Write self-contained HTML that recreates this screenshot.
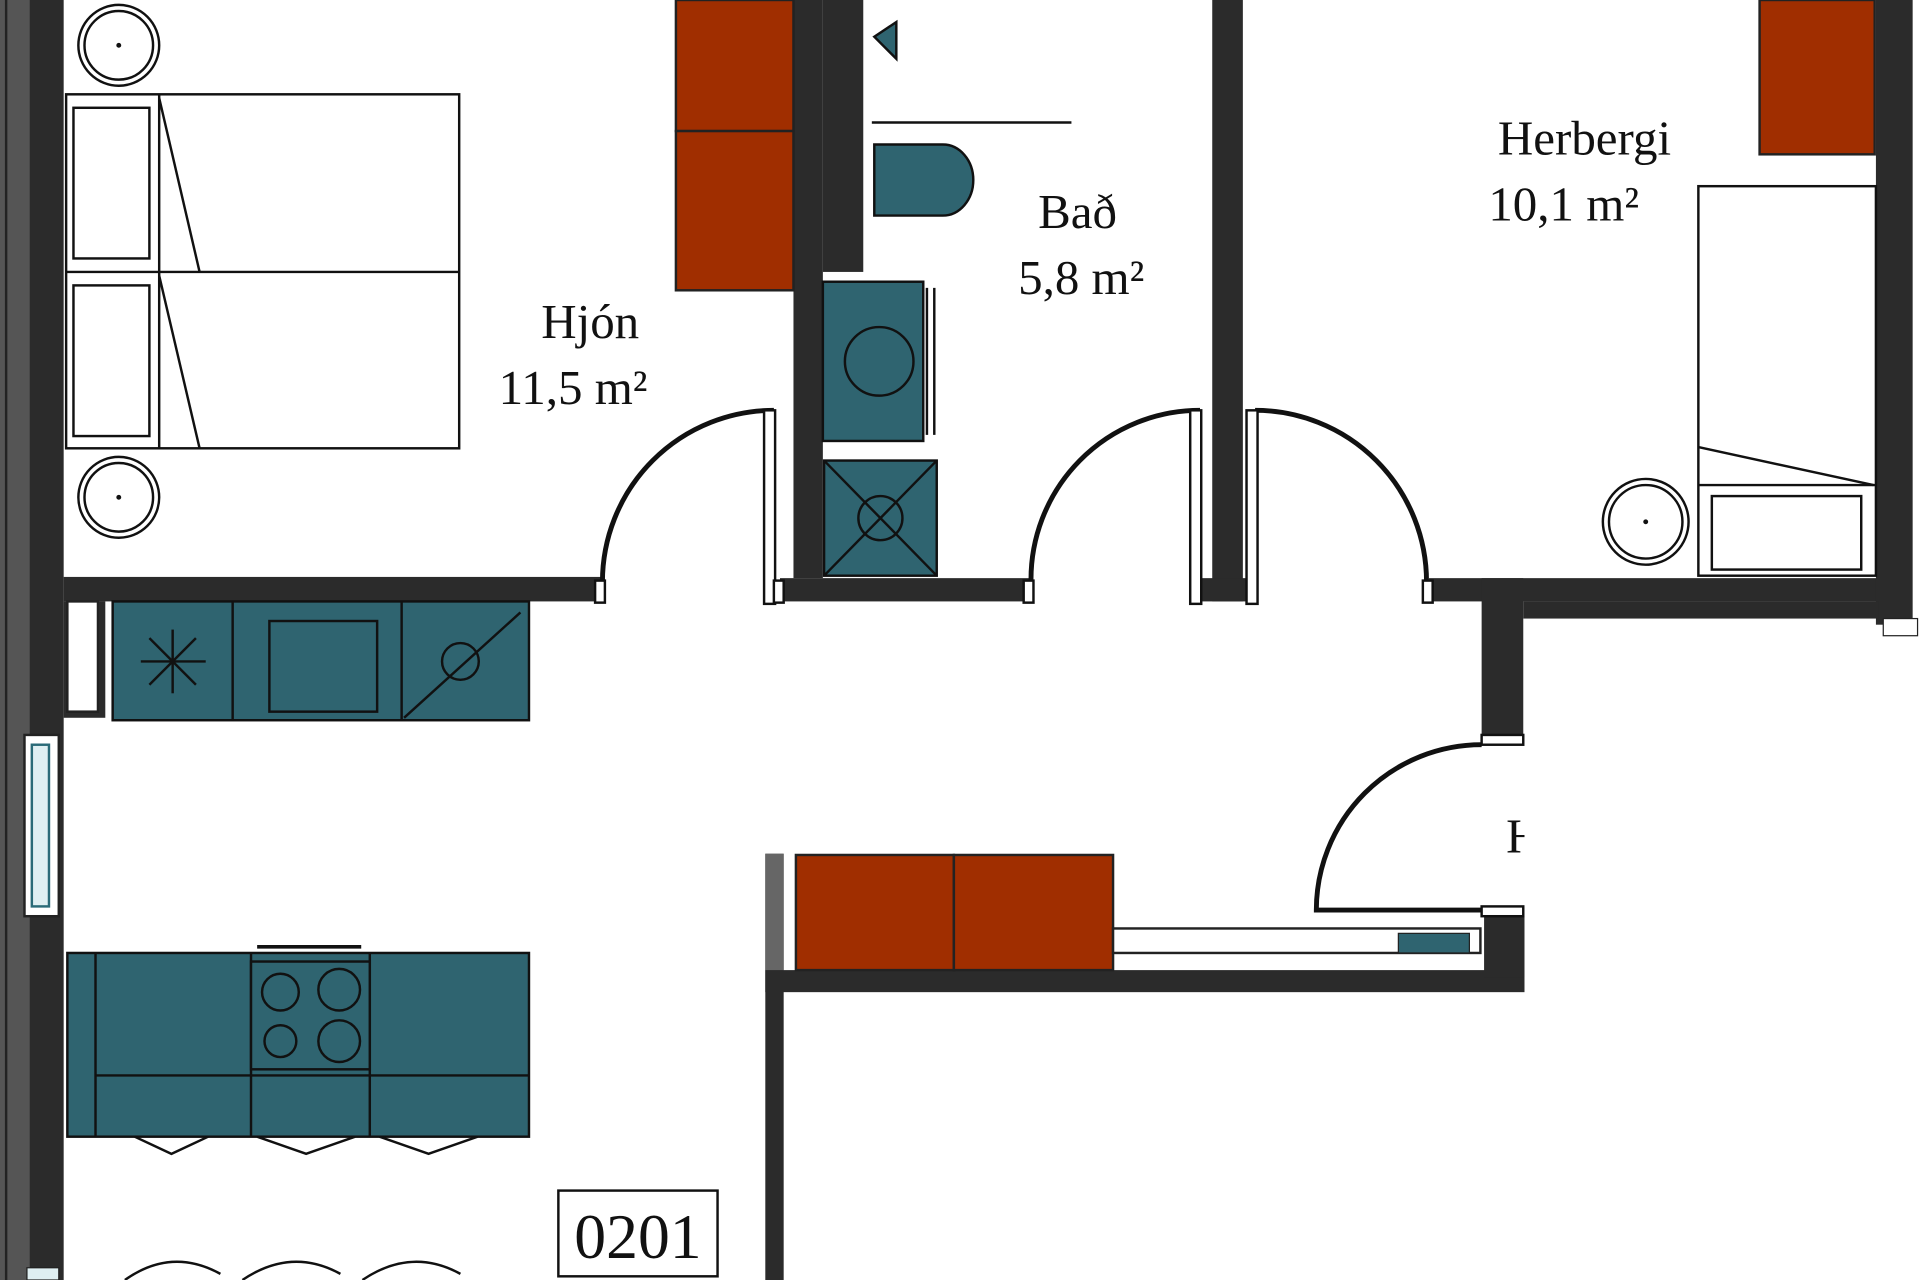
<!DOCTYPE html>
<html><head><meta charset="utf-8"><style>
html,body{margin:0;padding:0;background:#fff;width:1920px;height:1280px;overflow:hidden}
svg{display:block}
text{font-family:"Liberation Serif",serif;fill:#111}
</style></head><body>
<svg width="1920" height="1280" viewBox="0 0 1568 1045" preserveAspectRatio="none" xmlns="http://www.w3.org/2000/svg">
<rect width="1568" height="1045" fill="#fff"/>
<!-- left wall -->
<rect x="0" y="0" width="24" height="1045" fill="#555"/>
<rect x="24" y="0" width="28" height="1045" fill="#2b2b2b"/>
<line x1="5" y1="0" x2="5" y2="1045" stroke="#222" stroke-width="2"/>
<rect x="20" y="600" width="28" height="148" fill="#fff" stroke="#222" stroke-width="2"/>
<rect x="26" y="608" width="14" height="132" fill="#dfeff2" stroke="#2b6b78" stroke-width="2"/>
<rect x="22" y="1035" width="26" height="10" fill="#dfeff2" stroke="#222"/>

<!-- walls -->
<g fill="#2b2b2b">
<rect x="52" y="471" width="440" height="20"/>
<rect x="52" y="491" width="34" height="95"/>
<rect x="648" y="0" width="24" height="472"/>
<rect x="672" y="0" width="33" height="222"/>
<rect x="637" y="472" width="205" height="19"/>
<rect x="990" y="0" width="25" height="491"/>
<rect x="978" y="472" width="40" height="19"/>
<rect x="1167" y="472" width="370" height="19"/>
<rect x="1532" y="0" width="30" height="510"/>
<rect x="1210" y="472" width="34" height="135"/>
<rect x="1244" y="491" width="290" height="14"/>
<rect x="625" y="792" width="620" height="18"/>
<rect x="625" y="697" width="15" height="348"/>
<rect x="1212" y="748" width="33" height="50"/>
</g>
<rect x="625" y="697" width="15" height="95" fill="#666"/>
<rect x="55" y="491" width="25" height="90" fill="#fff" stroke="#222" stroke-width="2"/>
<rect x="1538" y="505" width="28" height="14" fill="#fff" stroke="#222"/>

<!-- orange wardrobes -->
<g fill="#a02e00" stroke="#222" stroke-width="2">
<rect x="552" y="0" width="96" height="107"/>
<rect x="552" y="107" width="96" height="130"/>
<rect x="1437" y="0" width="94" height="126"/>
<rect x="650" y="698" width="129" height="94"/>
<rect x="779" y="698" width="130" height="94"/>
</g>
<rect x="909" y="758" width="300" height="20" fill="#fff" stroke="#222" stroke-width="2"/>
<rect x="1142" y="762" width="58" height="16" fill="#2f6470" stroke="#222"/>

<!-- doors -->
<g fill="none" stroke="#111" stroke-width="4">
<path d="M632 335 A140 140 0 0 0 492 475"/>
<path d="M980 335 A138 138 0 0 0 842 475"/>
<path d="M1025 335 A140 140 0 0 1 1165 475"/>
<path d="M1210 608 A135 135 0 0 0 1075 743 L1210 743"/>
</g>
<g fill="#fff" stroke="#111" stroke-width="2">
<rect x="624" y="335" width="9" height="158"/>
<rect x="486" y="474" width="8" height="18"/>
<rect x="972" y="335" width="9" height="158"/>
<rect x="1018" y="335" width="9" height="158"/>
<rect x="632" y="474" width="8" height="18"/>
<rect x="836" y="474" width="8" height="18"/>
<rect x="1162" y="474" width="8" height="18"/>
<rect x="1210" y="600" width="34" height="8"/>
<rect x="1210" y="740" width="34" height="8"/>
</g>

<!-- beds -->
<g fill="none" stroke="#111" stroke-width="2">
<rect x="54" y="77" width="321" height="289" fill="#fff"/>
<line x1="54" y1="222" x2="375" y2="222"/>
<line x1="130" y1="77" x2="130" y2="366"/>
<rect x="60" y="88" width="62" height="123"/>
<rect x="60" y="233" width="62" height="123"/>
<line x1="130" y1="80" x2="163" y2="222"/>
<line x1="130" y1="225" x2="163" y2="366"/>
<circle cx="97" cy="37" r="33"/><circle cx="97" cy="37" r="28"/>
<circle cx="97" cy="406" r="33"/><circle cx="97" cy="406" r="28"/>
<rect x="1387" y="152" width="145" height="318" fill="#fff"/>
<line x1="1387" y1="396" x2="1532" y2="396"/>
<line x1="1387" y1="365" x2="1530" y2="396"/>
<rect x="1398" y="405" width="122" height="60"/>
<circle cx="1344" cy="426" r="35"/><circle cx="1344" cy="426" r="30"/>
</g>
<circle cx="97" cy="37" r="2" fill="#111"/><circle cx="97" cy="406" r="2" fill="#111"/><circle cx="1344" cy="426" r="2" fill="#111"/>

<!-- bathroom -->
<g stroke="#111" stroke-width="2">
<line x1="712" y1="100" x2="875" y2="100"/>
<path d="M714 30 L732 18 L732 48 Z" fill="#2f6470"/>
<path d="M714 118 L770 118 A24 28 0 0 1 770 176 L714 176 Z" fill="#2f6470"/>
<rect x="672" y="230" width="82" height="130" fill="#2f6470"/>
<circle cx="718" cy="295" r="28" fill="none"/>
<line x1="757" y1="235" x2="757" y2="355"/><line x1="763" y1="235" x2="763" y2="355"/>
<rect x="673" y="376" width="92" height="94" fill="#2f6470"/>
<line x1="673" y1="376" x2="765" y2="470"/><line x1="765" y1="376" x2="673" y2="470"/>
<circle cx="719" cy="423" r="18" fill="none"/>
</g>

<!-- kitchen counter -->
<g stroke="#111" stroke-width="2" fill="#2f6470">
<rect x="92" y="491" width="340" height="97"/>
<line x1="190" y1="491" x2="190" y2="588"/><line x1="328" y1="491" x2="328" y2="588"/>
<rect x="220" y="507" width="88" height="74" fill="none"/>
<line x1="115" y1="540" x2="168" y2="540"/><line x1="141" y1="514" x2="141" y2="566"/>
<line x1="122" y1="521" x2="160" y2="559"/><line x1="160" y1="521" x2="122" y2="559"/>
<path d="M330 586 L425 500" fill="none"/><circle cx="376" cy="540" r="15" fill="none"/>
<!-- island -->
<rect x="55" y="778" width="377" height="150"/>
<line x1="78" y1="778" x2="78" y2="928"/>
<line x1="205" y1="778" x2="205" y2="928"/><line x1="302" y1="778" x2="302" y2="928"/>
<line x1="78" y1="878" x2="432" y2="878"/>
<rect x="205" y="785" width="97" height="88"/>
<circle cx="229" cy="810" r="15" fill="none"/><circle cx="277" cy="808" r="17" fill="none"/>
<circle cx="229" cy="850" r="13" fill="none"/><circle cx="277" cy="850" r="17" fill="none"/>
<path d="M110 928 L140 942 L170 928 M210 928 L250 942 L290 928 M310 928 L350 942 L390 928" fill="none"/>
<path d="M102 1045 Q140 1018 180 1040 M198 1045 Q238 1018 278 1040 M296 1045 Q336 1018 376 1040" fill="none"/>
</g>
<line x1="210" y1="773" x2="295" y2="773" stroke="#111" stroke-width="3"/>

<!-- labels -->
<text x="482" y="276" font-size="40" text-anchor="middle">Hjón</text>
<text x="468" y="330" font-size="40" text-anchor="middle">11,5 m²</text>
<text x="880" y="186" font-size="40" text-anchor="middle">Bað</text>
<text x="883" y="240" font-size="40" text-anchor="middle">5,8 m²</text>
<text x="1294" y="126" font-size="40" text-anchor="middle">Herbergi</text>
<text x="1277" y="180" font-size="40" text-anchor="middle">10,1 m²</text>
<text x="1230" y="696" font-size="40">H</text>
<rect x="1245" y="606" width="323" height="134" fill="#fff"/>
<rect x="456" y="972" width="130" height="70" fill="#fff" stroke="#111" stroke-width="2"/>
<text x="521" y="1027" font-size="52" text-anchor="middle">0201</text>
</svg>
</body></html>
